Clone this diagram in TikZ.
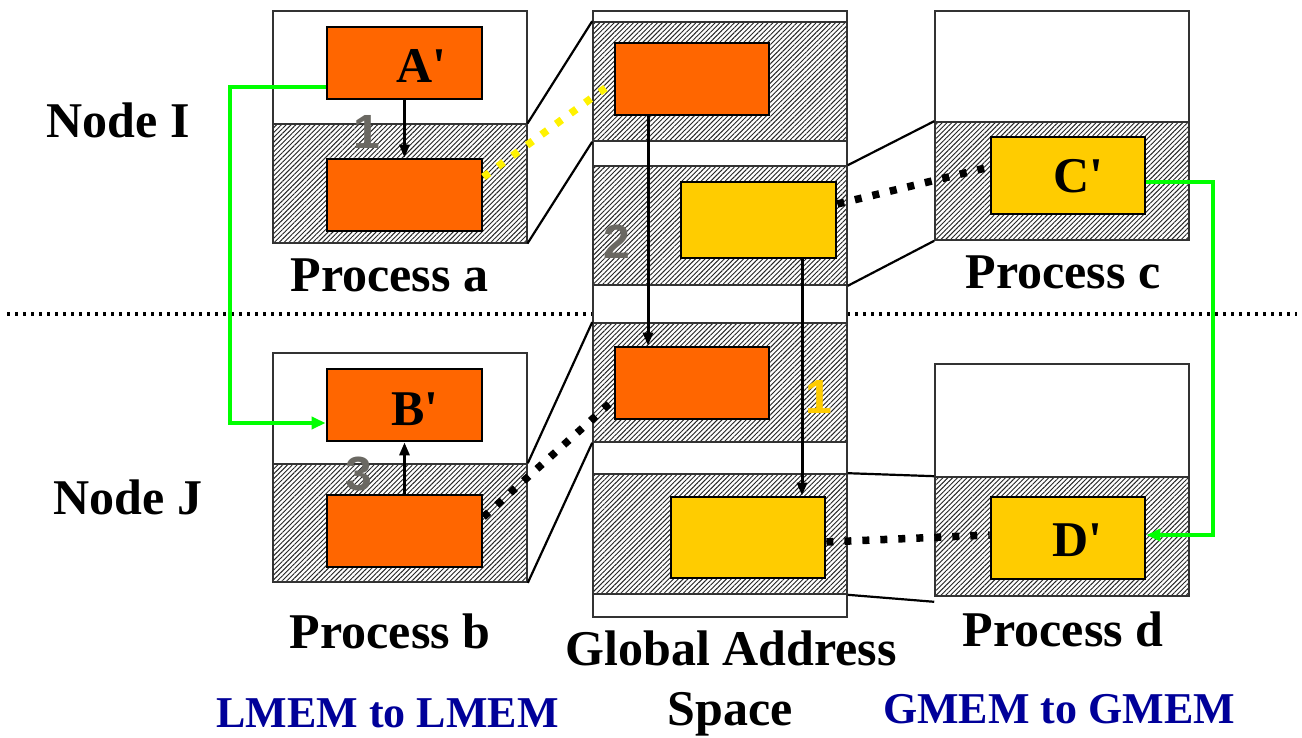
\documentclass[tikz,border=0pt]{standalone}
\usepackage{fontspec}
\newfontfamily\tnr{Liberation Serif}
\newfontfamily\arl{Liberation Sans}
\usetikzlibrary{patterns.meta,arrows.meta}
\definecolor{memorange}{HTML}{FF6600}
\definecolor{memyellow}{HTML}{FFCC00}
\definecolor{linkgreen}{HTML}{00FF00}
\definecolor{stepgray}{HTML}{6A6862}
\definecolor{capnavy}{HTML}{000099}
\newcommand\apos{\symbol{39}}
\begin{document}
\begin{tikzpicture}[x=1pt,y=-1pt,
  outerbox/.style={draw=black!80, line width=1.6pt, fill=white, minimum width=254pt, inner sep=0pt},
  hatchbox/.style={draw=black!80, line width=1.6pt,
    pattern={Lines[angle=45,distance=3.4pt,line width=0.95pt]}, pattern color=black!85,
    minimum width=254pt, inner sep=0pt},
  lmem/.style={draw=black, line width=2.8pt, fill=memorange, minimum width=155pt, minimum height=72pt, inner sep=0pt},
  gmem/.style={draw=black, line width=2.8pt, fill=memyellow, minimum width=155pt, inner sep=0pt},
  boxlbl/.style={font=\tnr\bfseries\fontsize{50}{60}\selectfont, inner sep=0pt},
  title/.style={font=\tnr\bfseries\fontsize{50}{60}\selectfont, inner sep=0pt, anchor=base},
  caption/.style={font=\tnr\bfseries\fontsize{44}{52}\selectfont, text=capnavy, inner sep=0pt, anchor=base},
  stepno/.style={font=\arl\bfseries\fontsize{48}{56}\selectfont, text=stepgray, inner sep=0pt, anchor=base},
  mapline/.style={draw=black, line width=2.2pt},
  arr/.style={draw=black, line width=3pt, -{Triangle[length=13pt,width=10pt]}},
  grnarr/.style={draw=linkgreen, line width=4pt, -{Triangle[length=14pt,width=12pt]}},
  dotlink/.style={line width=7.5pt, dash pattern=on 7pt off 11pt},
  divider/.style={draw=black, line width=3pt, dash pattern=on 3pt off 5pt}
]
\useasboundingbox (0,0) rectangle (1302,738);

% node boundary
\coordinate (dl) at (7,314);
\coordinate (dr) at (1297,314);
\draw[divider] (dl) -- (dr);

% Process a
\node[outerbox, minimum height=232pt] (pa) at (400,127) {};
\node[hatchbox, minimum height=119pt] (pah) at (400,183.5) {};
\node[lmem] (ap) at (404.5,63) {};
\node[lmem] (al) at (404.5,195) {};

% Process b
\node[outerbox, minimum height=229pt] (pb) at (400,467.5) {};
\node[hatchbox, minimum height=118pt] (pbh) at (400,523) {};
\node[lmem] (bp) at (404.5,405) {};
\node[lmem] (bl) at (404.5,531) {};

% Global address space
\node[outerbox, minimum height=606pt] (gas) at (720,314) {};
\node[hatchbox, minimum height=119pt] (h1) at (720,81.5) {};
\node[hatchbox, minimum height=119pt] (h2) at (720,225.5) {};
\node[hatchbox, minimum height=119pt] (h3) at (720,382.5) {};
\node[hatchbox, minimum height=120pt] (h4) at (720,534) {};
\node[lmem, minimum width=154pt] (g1) at (692,79) {};
\node[gmem, minimum height=76pt] (g2) at (758.5,220) {};
\node[lmem, minimum width=154pt] (g3) at (692,383) {};
\node[gmem, minimum width=154pt, minimum height=81pt] (g4) at (748,537.5) {};

% Process c
\node[outerbox, minimum height=229pt] (pc) at (1062,125.5) {};
\node[hatchbox, minimum height=118pt] (pch) at (1062,181) {};
\node[gmem, minimum width=154pt, minimum height=77pt] (cp) at (1068,175.5) {};

% Process d
\node[outerbox, minimum height=232pt] (pd) at (1062,480) {};
\node[hatchbox, minimum height=119pt] (pdh) at (1062,536.5) {};
\node[gmem, minimum width=154pt, minimum height=82pt] (dp) at (1068,538) {};

% mapping of local windows into the global space
\draw[mapline] (pah.north east) -- (h1.north west);
\draw[mapline] (pah.south east) -- (h1.south west);
\draw[mapline] (pbh.north east) -- (h3.north west);
\draw[mapline] (pbh.south east) -- (h3.south west);
\draw[mapline] (h2.north east) -- (pch.north west);
\draw[mapline] (h2.south east) -- (pch.south west);
\draw[mapline] (h4.north east) -- (pdh.north west);
\coordinate (dlow) at ([yshift=-5pt]pdh.south west);
\draw[mapline] (h4.south east) -- (dlow);

% dotted correspondences
\draw[dotlink, draw=yellow] ([yshift=18pt]al.east) -- ([yshift=-3pt]g1.west);
\draw[dotlink, draw=black] ([yshift=14pt]bl.east) -- ([yshift=-17pt]g3.west);
\draw[dotlink, draw=black] ([yshift=16pt]g2.east) -- ([yshift=8.5pt]cp.west);
\draw[dotlink, draw=black] ([yshift=-4.5pt]g4.east) -- ([yshift=3pt]dp.west);

% copy steps
\draw[arr] (ap.south) -- (al.north);
\draw[arr] (bl.north) -- (bp.south);
\draw[arr] ([xshift=-44pt]g1.south) -- ([xshift=-44pt]g3.north);
\coordinate (g2s) at ([xshift=43.5pt]g2.south);
\draw[arr] (g2s) -- (g2s |- g4.north);

% direct transfers
\draw[grnarr] ([yshift=-24pt]ap.west) -- ++(-96,0) |- ([yshift=-18pt]bp.west);
\draw[grnarr] ([yshift=-6.5pt]cp.east) -- ++(67,0) |- ([yshift=3pt]dp.east);

% box labels
\node[boxlbl] (apt) at (421,65.5) {A\apos};
\node[boxlbl] (bpt) at (415,409) {B\apos};
\node[boxlbl] (cpt) at (1078,176) {C\apos};
\node[boxlbl] (dpt) at (1077,540.5) {D\apos};

% step numbers
\node[stepno] (s1) at (367,149) {1};
\node[stepno] (s2) at (617,259) {2};
\node[stepno] (s3) at (359,490) {3};
\node[stepno, text=memyellow] (s1b) at (819,413) {1};

% titles
\node[title] (ni) at (118,138) {Node I};
\node[title] (nj) at (128,514) {Node J};
\node[title] (ta) at (389.5,292) {Process a};
\node[title] (tb) at (390,648) {Process b};
\node[title] (tc) at (1063,288) {Process c};
\node[title] (td) at (1063,646) {Process d};
\node[title] (tg1) at (731,665) {Global Address};
\node[title] (tg2) at (730,725) {Space};
\node[caption] (cl) at (387.5,727) {LMEM to LMEM};
\node[caption] (cg) at (1059,723) {GMEM to GMEM};
\end{tikzpicture}
\end{document}
